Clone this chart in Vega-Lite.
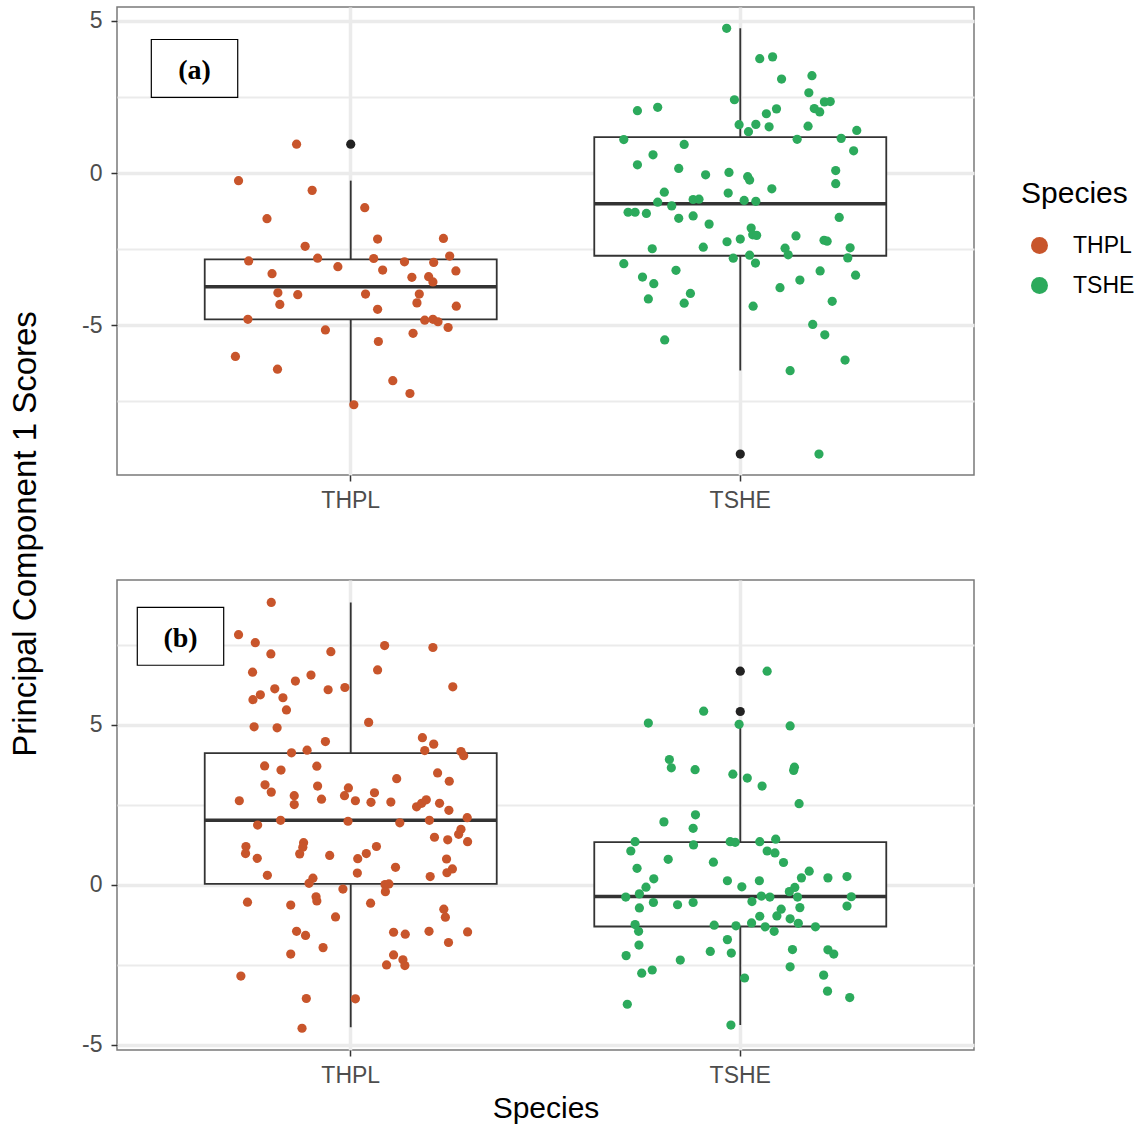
{
  "$schema": "https://vega.github.io/schema/vega-lite/v6.json",
  "background": "white",
  "padding": {"left": 8, "top": 6, "right": 0, "bottom": 0},
  "bounds": "flush",
  "spacing": 105,
  "datasets": {
    "points": [
      {"panel":"a","Species":"THPL","jitter":-0.139,"score":0.95},
      {"panel":"a","Species":"THPL","jitter":-0.288,"score":-0.25},
      {"panel":"a","Species":"THPL","jitter":-0.099,"score":-0.57},
      {"panel":"a","Species":"THPL","jitter":0.036,"score":-1.14},
      {"panel":"a","Species":"THPL","jitter":-0.215,"score":-1.50},
      {"panel":"a","Species":"THPL","jitter":0.069,"score":-2.17},
      {"panel":"a","Species":"THPL","jitter":0.238,"score":-2.15},
      {"panel":"a","Species":"THPL","jitter":-0.117,"score":-2.41},
      {"panel":"a","Species":"THPL","jitter":-0.262,"score":-2.89},
      {"panel":"a","Species":"THPL","jitter":-0.085,"score":-2.80},
      {"panel":"a","Species":"THPL","jitter":-0.033,"score":-3.08},
      {"panel":"a","Species":"THPL","jitter":0.059,"score":-2.81},
      {"panel":"a","Species":"THPL","jitter":0.138,"score":-2.92},
      {"panel":"a","Species":"THPL","jitter":0.213,"score":-2.94},
      {"panel":"a","Species":"THPL","jitter":0.254,"score":-2.73},
      {"panel":"a","Species":"THPL","jitter":-0.202,"score":-3.31},
      {"panel":"a","Species":"THPL","jitter":0.082,"score":-3.19},
      {"panel":"a","Species":"THPL","jitter":0.270,"score":-3.22},
      {"panel":"a","Species":"THPL","jitter":0.157,"score":-3.43},
      {"panel":"a","Species":"THPL","jitter":0.200,"score":-3.41},
      {"panel":"a","Species":"THPL","jitter":0.211,"score":-3.58},
      {"panel":"a","Species":"THPL","jitter":-0.187,"score":-3.94},
      {"panel":"a","Species":"THPL","jitter":-0.136,"score":-4.00},
      {"panel":"a","Species":"THPL","jitter":0.038,"score":-3.98},
      {"panel":"a","Species":"THPL","jitter":0.176,"score":-3.98},
      {"panel":"a","Species":"THPL","jitter":-0.182,"score":-4.32},
      {"panel":"a","Species":"THPL","jitter":0.170,"score":-4.27},
      {"panel":"a","Species":"THPL","jitter":0.271,"score":-4.38},
      {"panel":"a","Species":"THPL","jitter":0.069,"score":-4.48},
      {"panel":"a","Species":"THPL","jitter":-0.264,"score":-4.81},
      {"panel":"a","Species":"THPL","jitter":0.190,"score":-4.84},
      {"panel":"a","Species":"THPL","jitter":0.211,"score":-4.81},
      {"panel":"a","Species":"THPL","jitter":0.224,"score":-4.89},
      {"panel":"a","Species":"THPL","jitter":0.250,"score":-5.08},
      {"panel":"a","Species":"THPL","jitter":-0.065,"score":-5.16},
      {"panel":"a","Species":"THPL","jitter":0.160,"score":-5.27},
      {"panel":"a","Species":"THPL","jitter":0.071,"score":-5.54},
      {"panel":"a","Species":"THPL","jitter":-0.296,"score":-6.03},
      {"panel":"a","Species":"THPL","jitter":-0.188,"score":-6.45},
      {"panel":"a","Species":"THPL","jitter":0.108,"score":-6.83},
      {"panel":"a","Species":"THPL","jitter":0.152,"score":-7.25},
      {"panel":"a","Species":"THPL","jitter":0.008,"score":-7.62},
      {"panel":"a","Species":"TSHE","jitter":-0.035,"score":4.76},
      {"panel":"a","Species":"TSHE","jitter":0.050,"score":3.76},
      {"panel":"a","Species":"TSHE","jitter":0.083,"score":3.82},
      {"panel":"a","Species":"TSHE","jitter":0.106,"score":3.09},
      {"panel":"a","Species":"TSHE","jitter":0.184,"score":3.20},
      {"panel":"a","Species":"TSHE","jitter":0.176,"score":2.64},
      {"panel":"a","Species":"TSHE","jitter":-0.015,"score":2.41},
      {"panel":"a","Species":"TSHE","jitter":-0.264,"score":2.05},
      {"panel":"a","Species":"TSHE","jitter":-0.212,"score":2.16},
      {"panel":"a","Species":"TSHE","jitter":0.216,"score":2.34},
      {"panel":"a","Species":"TSHE","jitter":0.231,"score":2.35},
      {"panel":"a","Species":"TSHE","jitter":0.190,"score":2.12},
      {"panel":"a","Species":"TSHE","jitter":0.204,"score":2.01},
      {"panel":"a","Species":"TSHE","jitter":0.093,"score":2.11},
      {"panel":"a","Species":"TSHE","jitter":0.067,"score":1.95},
      {"panel":"a","Species":"TSHE","jitter":-0.003,"score":1.59},
      {"panel":"a","Species":"TSHE","jitter":0.040,"score":1.60},
      {"panel":"a","Species":"TSHE","jitter":0.074,"score":1.52},
      {"panel":"a","Species":"TSHE","jitter":0.021,"score":1.36},
      {"panel":"a","Species":"TSHE","jitter":0.174,"score":1.54},
      {"panel":"a","Species":"TSHE","jitter":0.299,"score":1.40},
      {"panel":"a","Species":"TSHE","jitter":-0.299,"score":1.10},
      {"panel":"a","Species":"TSHE","jitter":0.146,"score":1.11},
      {"panel":"a","Species":"TSHE","jitter":0.259,"score":1.14},
      {"panel":"a","Species":"TSHE","jitter":-0.144,"score":0.94},
      {"panel":"a","Species":"TSHE","jitter":0.291,"score":0.73},
      {"panel":"a","Species":"TSHE","jitter":-0.224,"score":0.60},
      {"panel":"a","Species":"TSHE","jitter":-0.264,"score":0.27},
      {"panel":"a","Species":"TSHE","jitter":-0.158,"score":0.15},
      {"panel":"a","Species":"TSHE","jitter":-0.089,"score":-0.06},
      {"panel":"a","Species":"TSHE","jitter":-0.029,"score":0.02},
      {"panel":"a","Species":"TSHE","jitter":0.019,"score":-0.12},
      {"panel":"a","Species":"TSHE","jitter":0.024,"score":-0.23},
      {"panel":"a","Species":"TSHE","jitter":0.245,"score":0.08},
      {"panel":"a","Species":"TSHE","jitter":0.245,"score":-0.35},
      {"panel":"a","Species":"TSHE","jitter":0.081,"score":-0.52},
      {"panel":"a","Species":"TSHE","jitter":-0.195,"score":-0.63},
      {"panel":"a","Species":"TSHE","jitter":-0.031,"score":-0.66},
      {"panel":"a","Species":"TSHE","jitter":-0.121,"score":-0.87},
      {"panel":"a","Species":"TSHE","jitter":-0.106,"score":-0.86},
      {"panel":"a","Species":"TSHE","jitter":0.010,"score":-0.90},
      {"panel":"a","Species":"TSHE","jitter":0.040,"score":-0.93},
      {"panel":"a","Species":"TSHE","jitter":-0.212,"score":-0.96},
      {"panel":"a","Species":"TSHE","jitter":-0.176,"score":-1.08},
      {"panel":"a","Species":"TSHE","jitter":-0.288,"score":-1.29},
      {"panel":"a","Species":"TSHE","jitter":-0.270,"score":-1.29},
      {"panel":"a","Species":"TSHE","jitter":-0.241,"score":-1.33},
      {"panel":"a","Species":"TSHE","jitter":-0.121,"score":-1.41},
      {"panel":"a","Species":"TSHE","jitter":-0.158,"score":-1.49},
      {"panel":"a","Species":"TSHE","jitter":0.254,"score":-1.46},
      {"panel":"a","Species":"TSHE","jitter":-0.080,"score":-1.68},
      {"panel":"a","Species":"TSHE","jitter":0.028,"score":-1.81},
      {"panel":"a","Species":"TSHE","jitter":0.032,"score":-2.03},
      {"panel":"a","Species":"TSHE","jitter":0.042,"score":-2.05},
      {"panel":"a","Species":"TSHE","jitter":0.000,"score":-2.17},
      {"panel":"a","Species":"TSHE","jitter":-0.034,"score":-2.26},
      {"panel":"a","Species":"TSHE","jitter":0.143,"score":-2.07},
      {"panel":"a","Species":"TSHE","jitter":0.215,"score":-2.21},
      {"panel":"a","Species":"TSHE","jitter":0.223,"score":-2.24},
      {"panel":"a","Species":"TSHE","jitter":-0.226,"score":-2.49},
      {"panel":"a","Species":"TSHE","jitter":-0.095,"score":-2.44},
      {"panel":"a","Species":"TSHE","jitter":0.115,"score":-2.47},
      {"panel":"a","Species":"TSHE","jitter":0.123,"score":-2.69},
      {"panel":"a","Species":"TSHE","jitter":0.282,"score":-2.46},
      {"panel":"a","Species":"TSHE","jitter":0.276,"score":-2.79},
      {"panel":"a","Species":"TSHE","jitter":0.024,"score":-2.70},
      {"panel":"a","Species":"TSHE","jitter":-0.018,"score":-2.80},
      {"panel":"a","Species":"TSHE","jitter":0.039,"score":-2.96},
      {"panel":"a","Species":"TSHE","jitter":-0.299,"score":-2.98},
      {"panel":"a","Species":"TSHE","jitter":-0.165,"score":-3.20},
      {"panel":"a","Species":"TSHE","jitter":-0.251,"score":-3.42},
      {"panel":"a","Species":"TSHE","jitter":-0.222,"score":-3.64},
      {"panel":"a","Species":"TSHE","jitter":0.205,"score":-3.22},
      {"panel":"a","Species":"TSHE","jitter":0.296,"score":-3.36},
      {"panel":"a","Species":"TSHE","jitter":0.153,"score":-3.52},
      {"panel":"a","Species":"TSHE","jitter":0.102,"score":-3.77},
      {"panel":"a","Species":"TSHE","jitter":-0.128,"score":-3.96},
      {"panel":"a","Species":"TSHE","jitter":-0.236,"score":-4.14},
      {"panel":"a","Species":"TSHE","jitter":-0.144,"score":-4.28},
      {"panel":"a","Species":"TSHE","jitter":0.236,"score":-4.22},
      {"panel":"a","Species":"TSHE","jitter":0.033,"score":-4.38},
      {"panel":"a","Species":"TSHE","jitter":0.186,"score":-4.98},
      {"panel":"a","Species":"TSHE","jitter":0.217,"score":-5.32},
      {"panel":"a","Species":"TSHE","jitter":-0.194,"score":-5.49},
      {"panel":"a","Species":"TSHE","jitter":0.269,"score":-6.15},
      {"panel":"a","Species":"TSHE","jitter":0.128,"score":-6.50},
      {"panel":"a","Species":"TSHE","jitter":0.202,"score":-9.24},
      {"panel":"b","Species":"THPL","jitter":-0.204,"score":8.83},
      {"panel":"b","Species":"THPL","jitter":-0.288,"score":7.82},
      {"panel":"b","Species":"THPL","jitter":-0.245,"score":7.57},
      {"panel":"b","Species":"THPL","jitter":-0.205,"score":7.22},
      {"panel":"b","Species":"THPL","jitter":-0.051,"score":7.29},
      {"panel":"b","Species":"THPL","jitter":0.087,"score":7.48},
      {"panel":"b","Species":"THPL","jitter":0.211,"score":7.42},
      {"panel":"b","Species":"THPL","jitter":-0.252,"score":6.65},
      {"panel":"b","Species":"THPL","jitter":0.069,"score":6.72},
      {"panel":"b","Species":"THPL","jitter":-0.102,"score":6.56},
      {"panel":"b","Species":"THPL","jitter":-0.142,"score":6.37},
      {"panel":"b","Species":"THPL","jitter":-0.195,"score":6.13},
      {"panel":"b","Species":"THPL","jitter":-0.058,"score":6.10},
      {"panel":"b","Species":"THPL","jitter":-0.015,"score":6.17},
      {"panel":"b","Species":"THPL","jitter":0.262,"score":6.19},
      {"panel":"b","Species":"THPL","jitter":-0.232,"score":5.94},
      {"panel":"b","Species":"THPL","jitter":-0.251,"score":5.79},
      {"panel":"b","Species":"THPL","jitter":-0.174,"score":5.85},
      {"panel":"b","Species":"THPL","jitter":-0.165,"score":5.47},
      {"panel":"b","Species":"THPL","jitter":0.046,"score":5.08},
      {"panel":"b","Species":"THPL","jitter":-0.248,"score":4.94},
      {"panel":"b","Species":"THPL","jitter":-0.189,"score":4.91},
      {"panel":"b","Species":"THPL","jitter":-0.065,"score":4.48},
      {"panel":"b","Species":"THPL","jitter":0.184,"score":4.60},
      {"panel":"b","Species":"THPL","jitter":0.213,"score":4.40},
      {"panel":"b","Species":"THPL","jitter":-0.152,"score":4.13},
      {"panel":"b","Species":"THPL","jitter":-0.112,"score":4.21},
      {"panel":"b","Species":"THPL","jitter":0.190,"score":4.20},
      {"panel":"b","Species":"THPL","jitter":0.283,"score":4.17},
      {"panel":"b","Species":"THPL","jitter":0.290,"score":4.04},
      {"panel":"b","Species":"THPL","jitter":-0.221,"score":3.72},
      {"panel":"b","Species":"THPL","jitter":-0.179,"score":3.59},
      {"panel":"b","Species":"THPL","jitter":-0.087,"score":3.71},
      {"panel":"b","Species":"THPL","jitter":0.118,"score":3.32},
      {"panel":"b","Species":"THPL","jitter":0.223,"score":3.50},
      {"panel":"b","Species":"THPL","jitter":0.253,"score":3.24},
      {"panel":"b","Species":"THPL","jitter":-0.220,"score":3.13},
      {"panel":"b","Species":"THPL","jitter":-0.204,"score":2.90},
      {"panel":"b","Species":"THPL","jitter":-0.085,"score":3.09},
      {"panel":"b","Species":"THPL","jitter":-0.006,"score":3.03},
      {"panel":"b","Species":"THPL","jitter":-0.016,"score":2.79},
      {"panel":"b","Species":"THPL","jitter":0.061,"score":2.88},
      {"panel":"b","Species":"THPL","jitter":-0.145,"score":2.79},
      {"panel":"b","Species":"THPL","jitter":-0.145,"score":2.51},
      {"panel":"b","Species":"THPL","jitter":-0.075,"score":2.68},
      {"panel":"b","Species":"THPL","jitter":-0.286,"score":2.63},
      {"panel":"b","Species":"THPL","jitter":0.012,"score":2.63},
      {"panel":"b","Species":"THPL","jitter":0.052,"score":2.58},
      {"panel":"b","Species":"THPL","jitter":0.103,"score":2.59},
      {"panel":"b","Species":"THPL","jitter":0.169,"score":2.44},
      {"panel":"b","Species":"THPL","jitter":0.182,"score":2.55},
      {"panel":"b","Species":"THPL","jitter":0.194,"score":2.66},
      {"panel":"b","Species":"THPL","jitter":0.228,"score":2.55},
      {"panel":"b","Species":"THPL","jitter":0.252,"score":2.33},
      {"panel":"b","Species":"THPL","jitter":0.299,"score":2.10},
      {"panel":"b","Species":"THPL","jitter":-0.180,"score":2.02},
      {"panel":"b","Species":"THPL","jitter":-0.007,"score":1.99},
      {"panel":"b","Species":"THPL","jitter":0.126,"score":1.94},
      {"panel":"b","Species":"THPL","jitter":0.202,"score":2.02},
      {"panel":"b","Species":"THPL","jitter":-0.239,"score":1.87},
      {"panel":"b","Species":"THPL","jitter":0.283,"score":1.74},
      {"panel":"b","Species":"THPL","jitter":0.277,"score":1.58},
      {"panel":"b","Species":"THPL","jitter":0.215,"score":1.49},
      {"panel":"b","Species":"THPL","jitter":0.249,"score":1.41},
      {"panel":"b","Species":"THPL","jitter":0.300,"score":1.35},
      {"panel":"b","Species":"THPL","jitter":-0.121,"score":1.32},
      {"panel":"b","Species":"THPL","jitter":-0.123,"score":1.18},
      {"panel":"b","Species":"THPL","jitter":-0.269,"score":1.20},
      {"panel":"b","Species":"THPL","jitter":-0.270,"score":0.98},
      {"panel":"b","Species":"THPL","jitter":-0.131,"score":0.97},
      {"panel":"b","Species":"THPL","jitter":-0.240,"score":0.83},
      {"panel":"b","Species":"THPL","jitter":-0.054,"score":0.92},
      {"panel":"b","Species":"THPL","jitter":0.066,"score":1.20},
      {"panel":"b","Species":"THPL","jitter":0.040,"score":0.98},
      {"panel":"b","Species":"THPL","jitter":0.018,"score":0.82},
      {"panel":"b","Species":"THPL","jitter":0.246,"score":0.81},
      {"panel":"b","Species":"THPL","jitter":0.115,"score":0.55},
      {"panel":"b","Species":"THPL","jitter":0.017,"score":0.37},
      {"panel":"b","Species":"THPL","jitter":0.261,"score":0.50},
      {"panel":"b","Species":"THPL","jitter":0.247,"score":0.38},
      {"panel":"b","Species":"THPL","jitter":-0.214,"score":0.30},
      {"panel":"b","Species":"THPL","jitter":0.204,"score":0.26},
      {"panel":"b","Species":"THPL","jitter":-0.097,"score":0.21},
      {"panel":"b","Species":"THPL","jitter":-0.107,"score":0.05},
      {"panel":"b","Species":"THPL","jitter":0.088,"score":0.01},
      {"panel":"b","Species":"THPL","jitter":0.098,"score":0.03},
      {"panel":"b","Species":"THPL","jitter":-0.020,"score":-0.13},
      {"panel":"b","Species":"THPL","jitter":0.089,"score":-0.21},
      {"panel":"b","Species":"THPL","jitter":-0.265,"score":-0.54},
      {"panel":"b","Species":"THPL","jitter":-0.154,"score":-0.63},
      {"panel":"b","Species":"THPL","jitter":-0.089,"score":-0.37},
      {"panel":"b","Species":"THPL","jitter":-0.087,"score":-0.50},
      {"panel":"b","Species":"THPL","jitter":0.051,"score":-0.57},
      {"panel":"b","Species":"THPL","jitter":-0.039,"score":-1.00},
      {"panel":"b","Species":"THPL","jitter":0.239,"score":-0.76},
      {"panel":"b","Species":"THPL","jitter":0.243,"score":-1.01},
      {"panel":"b","Species":"THPL","jitter":-0.139,"score":-1.45},
      {"panel":"b","Species":"THPL","jitter":-0.116,"score":-1.58},
      {"panel":"b","Species":"THPL","jitter":0.110,"score":-1.48},
      {"panel":"b","Species":"THPL","jitter":0.140,"score":-1.54},
      {"panel":"b","Species":"THPL","jitter":0.201,"score":-1.45},
      {"panel":"b","Species":"THPL","jitter":0.300,"score":-1.47},
      {"panel":"b","Species":"THPL","jitter":0.251,"score":-1.80},
      {"panel":"b","Species":"THPL","jitter":-0.071,"score":-1.96},
      {"panel":"b","Species":"THPL","jitter":-0.154,"score":-2.16},
      {"panel":"b","Species":"THPL","jitter":0.110,"score":-2.19},
      {"panel":"b","Species":"THPL","jitter":0.134,"score":-2.34},
      {"panel":"b","Species":"THPL","jitter":0.139,"score":-2.52},
      {"panel":"b","Species":"THPL","jitter":0.092,"score":-2.50},
      {"panel":"b","Species":"THPL","jitter":-0.282,"score":-2.85},
      {"panel":"b","Species":"THPL","jitter":-0.114,"score":-3.55},
      {"panel":"b","Species":"THPL","jitter":0.012,"score":-3.56},
      {"panel":"b","Species":"THPL","jitter":-0.125,"score":-4.48},
      {"panel":"b","Species":"TSHE","jitter":0.069,"score":6.68},
      {"panel":"b","Species":"TSHE","jitter":-0.094,"score":5.43},
      {"panel":"b","Species":"TSHE","jitter":-0.236,"score":5.06},
      {"panel":"b","Species":"TSHE","jitter":-0.003,"score":5.02},
      {"panel":"b","Species":"TSHE","jitter":0.128,"score":4.97},
      {"panel":"b","Species":"TSHE","jitter":-0.182,"score":3.92},
      {"panel":"b","Species":"TSHE","jitter":-0.177,"score":3.66},
      {"panel":"b","Species":"TSHE","jitter":-0.116,"score":3.60},
      {"panel":"b","Species":"TSHE","jitter":0.139,"score":3.68},
      {"panel":"b","Species":"TSHE","jitter":0.137,"score":3.58},
      {"panel":"b","Species":"TSHE","jitter":-0.019,"score":3.46},
      {"panel":"b","Species":"TSHE","jitter":0.018,"score":3.34},
      {"panel":"b","Species":"TSHE","jitter":0.056,"score":3.09},
      {"panel":"b","Species":"TSHE","jitter":0.151,"score":2.54},
      {"panel":"b","Species":"TSHE","jitter":-0.115,"score":2.19},
      {"panel":"b","Species":"TSHE","jitter":-0.196,"score":1.97},
      {"panel":"b","Species":"TSHE","jitter":-0.121,"score":1.77},
      {"panel":"b","Species":"TSHE","jitter":-0.270,"score":1.35},
      {"panel":"b","Species":"TSHE","jitter":-0.120,"score":1.25},
      {"panel":"b","Species":"TSHE","jitter":-0.026,"score":1.35},
      {"panel":"b","Species":"TSHE","jitter":-0.013,"score":1.33},
      {"panel":"b","Species":"TSHE","jitter":0.050,"score":1.35},
      {"panel":"b","Species":"TSHE","jitter":0.091,"score":1.43},
      {"panel":"b","Species":"TSHE","jitter":-0.281,"score":1.06},
      {"panel":"b","Species":"TSHE","jitter":0.069,"score":1.06},
      {"panel":"b","Species":"TSHE","jitter":0.089,"score":1.00},
      {"panel":"b","Species":"TSHE","jitter":-0.185,"score":0.80},
      {"panel":"b","Species":"TSHE","jitter":-0.069,"score":0.71},
      {"panel":"b","Species":"TSHE","jitter":0.111,"score":0.70},
      {"panel":"b","Species":"TSHE","jitter":-0.265,"score":0.52},
      {"panel":"b","Species":"TSHE","jitter":0.177,"score":0.43},
      {"panel":"b","Species":"TSHE","jitter":0.157,"score":0.22},
      {"panel":"b","Species":"TSHE","jitter":0.225,"score":0.22},
      {"panel":"b","Species":"TSHE","jitter":0.274,"score":0.26},
      {"panel":"b","Species":"TSHE","jitter":-0.222,"score":0.19},
      {"panel":"b","Species":"TSHE","jitter":-0.033,"score":0.13},
      {"panel":"b","Species":"TSHE","jitter":0.049,"score":0.13},
      {"panel":"b","Species":"TSHE","jitter":-0.242,"score":-0.07},
      {"panel":"b","Species":"TSHE","jitter":0.004,"score":-0.06},
      {"panel":"b","Species":"TSHE","jitter":0.140,"score":-0.08},
      {"panel":"b","Species":"TSHE","jitter":-0.259,"score":-0.28},
      {"panel":"b","Species":"TSHE","jitter":-0.294,"score":-0.38},
      {"panel":"b","Species":"TSHE","jitter":0.126,"score":-0.21},
      {"panel":"b","Species":"TSHE","jitter":0.054,"score":-0.35},
      {"panel":"b","Species":"TSHE","jitter":0.076,"score":-0.38},
      {"panel":"b","Species":"TSHE","jitter":0.147,"score":-0.38},
      {"panel":"b","Species":"TSHE","jitter":0.285,"score":-0.37},
      {"panel":"b","Species":"TSHE","jitter":0.030,"score":-0.52},
      {"panel":"b","Species":"TSHE","jitter":-0.223,"score":-0.55},
      {"panel":"b","Species":"TSHE","jitter":-0.161,"score":-0.62},
      {"panel":"b","Species":"TSHE","jitter":-0.121,"score":-0.55},
      {"panel":"b","Species":"TSHE","jitter":-0.259,"score":-0.72},
      {"panel":"b","Species":"TSHE","jitter":0.153,"score":-0.71},
      {"panel":"b","Species":"TSHE","jitter":0.274,"score":-0.66},
      {"panel":"b","Species":"TSHE","jitter":0.105,"score":-0.76},
      {"panel":"b","Species":"TSHE","jitter":0.094,"score":-0.97},
      {"panel":"b","Species":"TSHE","jitter":0.050,"score":-0.98},
      {"panel":"b","Species":"TSHE","jitter":0.128,"score":-1.06},
      {"panel":"b","Species":"TSHE","jitter":-0.270,"score":-1.24},
      {"panel":"b","Species":"TSHE","jitter":-0.261,"score":-1.45},
      {"panel":"b","Species":"TSHE","jitter":-0.067,"score":-1.26},
      {"panel":"b","Species":"TSHE","jitter":-0.011,"score":-1.28},
      {"panel":"b","Species":"TSHE","jitter":0.029,"score":-1.19},
      {"panel":"b","Species":"TSHE","jitter":0.064,"score":-1.31},
      {"panel":"b","Species":"TSHE","jitter":0.087,"score":-1.45},
      {"panel":"b","Species":"TSHE","jitter":0.149,"score":-1.20},
      {"panel":"b","Species":"TSHE","jitter":0.193,"score":-1.31},
      {"panel":"b","Species":"TSHE","jitter":-0.033,"score":-1.71},
      {"panel":"b","Species":"TSHE","jitter":-0.260,"score":-1.88},
      {"panel":"b","Species":"TSHE","jitter":-0.293,"score":-2.21},
      {"panel":"b","Species":"TSHE","jitter":-0.077,"score":-2.08},
      {"panel":"b","Species":"TSHE","jitter":-0.023,"score":-2.13},
      {"panel":"b","Species":"TSHE","jitter":0.134,"score":-2.02},
      {"panel":"b","Species":"TSHE","jitter":0.225,"score":-2.03},
      {"panel":"b","Species":"TSHE","jitter":0.240,"score":-2.16},
      {"panel":"b","Species":"TSHE","jitter":-0.154,"score":-2.35},
      {"panel":"b","Species":"TSHE","jitter":-0.226,"score":-2.66},
      {"panel":"b","Species":"TSHE","jitter":-0.253,"score":-2.76},
      {"panel":"b","Species":"TSHE","jitter":0.128,"score":-2.56},
      {"panel":"b","Species":"TSHE","jitter":0.011,"score":-2.91},
      {"panel":"b","Species":"TSHE","jitter":0.214,"score":-2.82},
      {"panel":"b","Species":"TSHE","jitter":0.224,"score":-3.32},
      {"panel":"b","Species":"TSHE","jitter":0.281,"score":-3.52},
      {"panel":"b","Species":"TSHE","jitter":-0.290,"score":-3.73},
      {"panel":"b","Species":"TSHE","jitter":-0.024,"score":-4.38}
    ],
    "boxes": [
      {"panel":"a","Species":"THPL","lower":-7.62,"q1":-4.81,"median":-3.74,"q3":-2.84,"upper":-0.25},
      {"panel":"a","Species":"TSHE","lower":-6.49,"q1":-2.72,"median":-1.01,"q3":1.18,"upper":4.76},
      {"panel":"b","Species":"THPL","lower":-4.45,"q1":0.03,"median":2.02,"q3":4.12,"upper":8.83},
      {"panel":"b","Species":"TSHE","lower":-4.38,"q1":-1.30,"median":-0.36,"q3":1.34,"upper":5.02}
    ],
    "outliers": [
      {"panel":"a","Species":"THPL","score":0.95},
      {"panel":"a","Species":"TSHE","score":-9.24},
      {"panel":"b","Species":"TSHE","score":6.68},
      {"panel":"b","Species":"TSHE","score":5.42}
    ]
  },
  "vconcat": [
    {
      "width": 857,
      "height": 468,
      "resolve": {"scale": {"x": "independent"}, "axis": {"x": "independent"}},
      "layer": [
        {
          "layer": [
            {
              "data": {"name": "boxes"},
              "transform": [{"filter": "datum.panel === 'a'"}],
              "mark": {"type": "rule", "color": "#333333", "strokeWidth": 1.8},
              "encoding": {
                "x": {"field": "Species", "type": "nominal", "scale": {"type": "band", "domain": ["THPL", "TSHE"], "paddingInner": 0, "paddingOuter": 0.1}, "axis": {"title": null, "grid": true, "gridWidth": 3.5, "bandPosition": 0.5, "labelAngle": 0, "labelPadding": 8}},
                "y": {"field": "lower", "type": "quantitative", "scale": {"domain": [-9.93, 5.46], "nice": false, "zero": false},
                  "axis": {"values": [-7.5, -5, -2.5, 0, 2.5, 5], "labelExpr": "datum.value % 5 === 0 ? toString(datum.value) : ''",
                    "tickOpacity": {"condition": {"test": "datum.value % 5 === 0", "value": 1}, "value": 0},
                    "gridWidth": {"condition": {"test": "datum.value % 5 === 0", "value": 3.5}, "value": 1.8},
                    "labelPadding": 9,
                    "title": "Principal Component 1 Scores", "titleFontSize": 33, "titleY": 526.5, "titleX": -82, "titleAngle": 270, "titleAlign": "center", "titleBaseline": "alphabetic"}},
                "y2": {"field": "upper"}
              }
            },
            {
              "data": {"name": "boxes"},
              "transform": [{"filter": "datum.panel === 'a'"}],
              "mark": {"type": "bar", "fill": "white", "stroke": "#333333", "strokeWidth": 1.8, "width": 292},
              "encoding": {
                "x": {"field": "Species", "type": "nominal"},
                "y": {"field": "q1", "type": "quantitative"},
                "y2": {"field": "q3"}
              }
            },
            {
              "data": {"name": "boxes"},
              "transform": [{"filter": "datum.panel === 'a'"}],
              "mark": {"type": "bar", "fill": "#333333", "stroke": "#333333", "strokeWidth": 3.5, "width": 292},
              "encoding": {
                "x": {"field": "Species", "type": "nominal"},
                "y": {"field": "median", "type": "quantitative"},
                "y2": {"field": "median"}
              }
            },
            {
              "data": {"name": "outliers"},
              "transform": [{"filter": "datum.panel === 'a'"}],
              "mark": {"type": "point", "filled": true, "color": "#222222", "opacity": 1, "size": 85},
              "encoding": {
                "x": {"field": "Species", "type": "nominal"},
                "y": {"field": "score", "type": "quantitative"}
              }
            }
          ]
        },
        {
          "layer": [
            {
              "data": {"name": "points"},
              "transform": [{"filter": "datum.panel === 'a'"}],
              "mark": {"type": "point", "filled": true, "opacity": 1, "size": 85},
              "encoding": {
                "x": {"field": "Species", "type": "nominal", "scale": {"type": "band", "domain": ["THPL", "TSHE"], "paddingInner": 0, "paddingOuter": 0.1}, "axis": null},
                "xOffset": {"field": "jitter", "type": "quantitative", "scale": {"domain": [-0.5, 0.5]}},
                "y": {"field": "score", "type": "quantitative"},
                "color": {"field": "Species", "type": "nominal", "scale": {"domain": ["THPL", "TSHE"], "range": ["#C8552B", "#2CAA5C"]}, "legend": {"title": "Species"}}
              }
            },
            {
              "data": {"values": [{"label": "(a)"}]},
              "mark": {"type": "point", "shape": "M-1,-0.67L1,-0.67L1,0.67L-1,0.67Z", "size": 7465, "filled": true, "fill": "white", "stroke": "black", "strokeWidth": 1.2, "opacity": 1},
              "encoding": {
                "x": {"datum": "THPL", "type": "nominal"},
                "xOffset": {"datum": -0.401, "type": "quantitative"},
                "y": {"datum": 3.44, "type": "quantitative"}
              }
            },
            {
              "data": {"values": [{"label": "(a)"}]},
              "mark": {"type": "text", "font": "Liberation Serif", "fontWeight": "bold", "fontSize": 28, "color": "black", "align": "center", "baseline": "middle", "dy": 3},
              "encoding": {
                "x": {"datum": "THPL", "type": "nominal"},
                "xOffset": {"datum": -0.401, "type": "quantitative"},
                "y": {"datum": 3.44, "type": "quantitative"},
                "text": {"field": "label"}
              }
            }
          ]
        }
      ]
    },
    {
      "width": 857,
      "height": 470,
      "resolve": {"scale": {"x": "independent"}, "axis": {"x": "independent"}},
      "layer": [
        {
          "layer": [
            {
              "data": {"name": "boxes"},
              "transform": [{"filter": "datum.panel === 'b'"}],
              "mark": {"type": "rule", "color": "#333333", "strokeWidth": 1.8},
              "encoding": {
                "x": {"field": "Species", "type": "nominal", "scale": {"type": "band", "domain": ["THPL", "TSHE"], "paddingInner": 0, "paddingOuter": 0.1}, "axis": {"title": "Species", "grid": true, "gridWidth": 3.5, "bandPosition": 0.5, "labelAngle": 0, "labelPadding": 8, "titlePadding": 6}},
                "y": {"field": "lower", "type": "quantitative", "scale": {"domain": [-5.16, 9.53], "nice": false, "zero": false},
                  "axis": {"values": [-5, -2.5, 0, 2.5, 5, 7.5], "labelExpr": "datum.value % 5 === 0 ? toString(datum.value) : ''",
                    "tickOpacity": {"condition": {"test": "datum.value % 5 === 0", "value": 1}, "value": 0},
                    "gridWidth": {"condition": {"test": "datum.value % 5 === 0", "value": 3.5}, "value": 1.8},
                    "labelPadding": 9,
                    "title": null}},
                "y2": {"field": "upper"}
              }
            },
            {
              "data": {"name": "boxes"},
              "transform": [{"filter": "datum.panel === 'b'"}],
              "mark": {"type": "bar", "fill": "white", "stroke": "#333333", "strokeWidth": 1.8, "width": 292},
              "encoding": {
                "x": {"field": "Species", "type": "nominal"},
                "y": {"field": "q1", "type": "quantitative"},
                "y2": {"field": "q3"}
              }
            },
            {
              "data": {"name": "boxes"},
              "transform": [{"filter": "datum.panel === 'b'"}],
              "mark": {"type": "bar", "fill": "#333333", "stroke": "#333333", "strokeWidth": 3.5, "width": 292},
              "encoding": {
                "x": {"field": "Species", "type": "nominal"},
                "y": {"field": "median", "type": "quantitative"},
                "y2": {"field": "median"}
              }
            },
            {
              "data": {"name": "outliers"},
              "transform": [{"filter": "datum.panel === 'b'"}],
              "mark": {"type": "point", "filled": true, "color": "#222222", "opacity": 1, "size": 85},
              "encoding": {
                "x": {"field": "Species", "type": "nominal"},
                "y": {"field": "score", "type": "quantitative"}
              }
            }
          ]
        },
        {
          "layer": [
            {
              "data": {"name": "points"},
              "transform": [{"filter": "datum.panel === 'b'"}],
              "mark": {"type": "point", "filled": true, "opacity": 1, "size": 85},
              "encoding": {
                "x": {"field": "Species", "type": "nominal", "scale": {"type": "band", "domain": ["THPL", "TSHE"], "paddingInner": 0, "paddingOuter": 0.1}, "axis": null},
                "xOffset": {"field": "jitter", "type": "quantitative", "scale": {"domain": [-0.5, 0.5]}},
                "y": {"field": "score", "type": "quantitative"},
                "color": {"field": "Species", "type": "nominal", "scale": {"domain": ["THPL", "TSHE"], "range": ["#C8552B", "#2CAA5C"]}, "legend": {"title": "Species"}}
              }
            },
            {
              "data": {"values": [{"label": "(b)"}]},
              "mark": {"type": "point", "shape": "M-1,-0.67L1,-0.67L1,0.67L-1,0.67Z", "size": 7465, "filled": true, "fill": "white", "stroke": "black", "strokeWidth": 1.2, "opacity": 1},
              "encoding": {
                "x": {"datum": "THPL", "type": "nominal"},
                "xOffset": {"datum": -0.437, "type": "quantitative"},
                "y": {"datum": 7.77, "type": "quantitative"}
              }
            },
            {
              "data": {"values": [{"label": "(b)"}]},
              "mark": {"type": "text", "font": "Liberation Serif", "fontWeight": "bold", "fontSize": 28, "color": "black", "align": "center", "baseline": "middle", "dy": 3},
              "encoding": {
                "x": {"datum": "THPL", "type": "nominal"},
                "xOffset": {"datum": -0.437, "type": "quantitative"},
                "y": {"datum": 7.77, "type": "quantitative"},
                "text": {"field": "label"}
              }
            }
          ]
        }
      ]
    }
  ],
  "resolve": {"scale": {"y": "independent", "color": "shared"}, "legend": {"color": "shared"}},
  "config": {
    "font": "Liberation Sans",
    "view": {"stroke": "#7a7a7a", "strokeWidth": 1.5},
    "axis": {
      "domain": false,
      "labelFont": "Liberation Sans",
      "labelFontSize": 23,
      "labelColor": "#4d4d4d",
      "tickColor": "#333333",
      "tickSize": 6,
      "tickWidth": 1.5,
      "gridColor": "#ebebeb",
      "titleFont": "Liberation Sans",
      "titleFontSize": 30,
      "titleFontWeight": "normal",
      "titleColor": "#000000"
    },
    "legend": {
      "orient": "none",
      "legendX": 904,
      "legendY": 172,
      "padding": 0,
      "titleFont": "Liberation Sans",
      "titleFontSize": 30,
      "titleFontWeight": "normal",
      "titleColor": "#000000",
      "titlePadding": 25,
      "labelFont": "Liberation Sans",
      "labelFontSize": 23,
      "labelColor": "#000000",
      "labelOffset": 22,
      "symbolType": "circle",
      "symbolSize": 289,
      "symbolOffset": 7,
      "rowPadding": 16
    }
  }
}
